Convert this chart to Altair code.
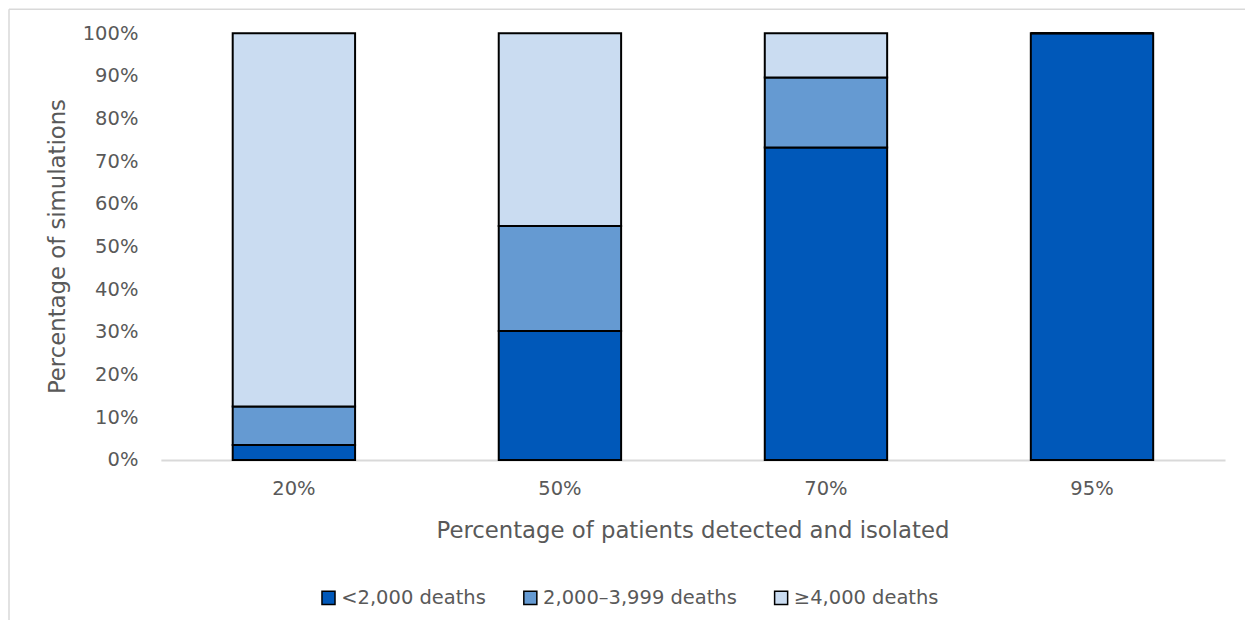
import altair as alt
import pandas as pd

categories = ["20%", "50%", "70%", "95%"]
series = ["<2,000 deaths", "2,000–3,999 deaths", "≥4,000 deaths"]
low = [3.5, 30.2, 73.2, 100.0]
mid = [9.0, 24.6, 16.4, 0.0]
high = [87.5, 45.2, 10.4, 0.0]
colors = ["#0058B9", "#659AD2", "#CADCF1"]
y_ticks = [i / 10 for i in range(11)]

rows = []
for i, c in enumerate(categories):
    for k, (s, vals) in enumerate(zip(series, [low, mid, high])):
        rows.append({"cat": c, "series": s, "order": k, "value": vals[i] / 100})
df = pd.DataFrame(rows)

FONT = "DejaVu Sans"
GRAY = "#595959"

bars = alt.Chart(df).mark_bar(stroke="black", strokeWidth=2).encode(
    x=alt.X("cat:N", sort=categories,
            scale=alt.Scale(paddingInner=0.54, paddingOuter=0.27),
            axis=alt.Axis(title="Percentage of patients detected and isolated",
                          labelAngle=0, labelFontSize=19.5, labelColor=GRAY, labelFont=FONT,
                          labelPadding=20, ticks=False, tickSize=0,
                          domainColor="#D9D9D9", domainWidth=2,
                          titleFontSize=22.8, titleColor=GRAY, titleFont=FONT,
                          titleFontWeight="normal", titleX=532, titleY=71,
                          titleBaseline="middle", titleAlign="center")),
    y=alt.Y("value:Q", stack="zero",
            scale=alt.Scale(domain=[0, 1], nice=False),
            axis=alt.Axis(title="Percentage of simulations", format=".0%", values=y_ticks,
                          grid=False, domain=False, ticks=False, tickSize=0, labelPadding=23,
                          labelFontSize=19.5, labelColor=GRAY, labelFont=FONT,
                          titleFontSize=22.8, titleColor=GRAY, titleFont=FONT,
                          titleFontWeight="normal", titleX=-103, titleY=213,
                          titleAngle=-90, titleBaseline="middle", titleAlign="center")),
    color=alt.Color("series:N", sort=series,
                    scale=alt.Scale(domain=series, range=colors),
                    legend=alt.Legend(title=None, orient="none", direction="horizontal",
                                      legendX=158, legendY=555,
                                      symbolType="square", symbolSize=170,
                                      symbolStrokeColor="black", symbolStrokeWidth=1.5,
                                      labelFontSize=19.5, labelColor=GRAY, labelFont=FONT,
                                      labelOffset=3, labelLimit=400, columnPadding=34)),
    order=alt.Order("order:Q"),
)

border = alt.Chart(pd.DataFrame({"a": [0]})).mark_rule(color="#D9D9D9", strokeWidth=1.5).encode(
    x=alt.value(-152), x2=alt.value(1100), y=alt.value(-24), y2=alt.value(-24)
)
border_left = alt.Chart(pd.DataFrame({"a": [0]})).mark_rule(color="#D9D9D9", strokeWidth=1.5).encode(
    x=alt.value(-152), x2=alt.value(-152), y=alt.value(-24), y2=alt.value(700)
)

chart = alt.layer(bars, border, border_left).properties(
    width=1065, height=427,
    padding={"left": 153, "top": 25, "right": 20, "bottom": 160},
    autosize="none",
).configure_view(stroke=None)

chart.save("out.html", embed_options={"renderer": "svg", "actions": False})
